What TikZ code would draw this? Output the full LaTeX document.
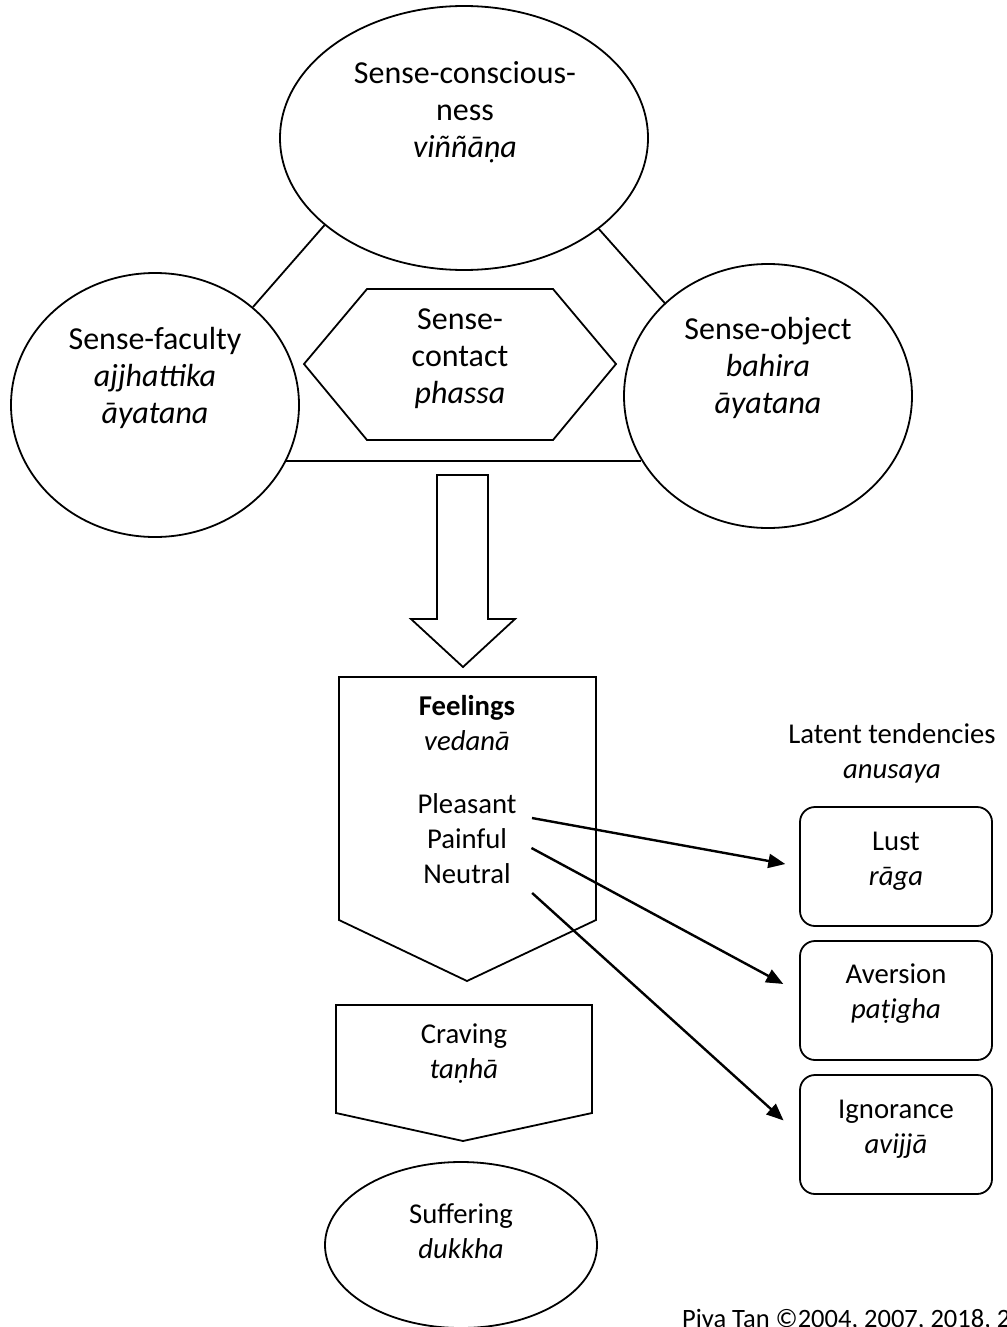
\documentclass[tikz,border=0pt]{standalone}
\usepackage{fontspec}
\setmainfont{Carlito}
\usetikzlibrary{shapes.geometric,arrows.meta}

\tikzset{
  oval/.style={draw, ellipse, line width=1.8pt, inner sep=0pt},
  link/.style={line width=1.8pt, line join=miter},
  bigtxt/.style={font=\fontsize{32}{37}\selectfont, align=center},
  txt/.style={font=\fontsize{28.7}{35}\selectfont, align=center},
  tbox/.style={draw, rounded corners=15pt, line width=1.8pt, minimum width=192pt, minimum height=119pt},
  pointer/.style={line width=2.4pt, -{Triangle[length=17pt,width=14pt]}}
}

\begin{document}
\begin{tikzpicture}[x=1pt, y=-1pt]
    \useasboundingbox (0,0) rectangle (1006,1327);
    % the three ovals of the sense process
    \node[oval, minimum width=368pt, minimum height=264pt] (cons) at (464,138) {};
    \node[oval, minimum width=288pt, minimum height=264pt] (fac) at (155,405) {};
    \node[oval, minimum width=288pt, minimum height=264pt] (obj) at (768,396) {};
    \node[bigtxt] (constxt) at (465,112) {Sense-conscious-\\ness\\\textit{viññāṇa}};
    \node[bigtxt] (factxt) at (155,378) {Sense-faculty\\\textit{ajjhattika}\\\textit{āyatana}};
    \node[bigtxt] (objtxt) at (768,368) {Sense-object\\\textit{bahira}\\\textit{āyatana}};
    \draw[link] (fac.45) -- (cons.212);
    \draw[link] (cons.-34) -- (obj.138);
    \draw[link] (fac.-23) -- (fac.-23 -| obj.207);
    % contact
    \draw[link] (304,364) -- (367,289) -- (553,289) -- (616,364) -- (553,440) -- (367,440) -- cycle;
    \node[bigtxt] (contact) at (460,359) {Sense-\\contact\\\textit{phassa}};
    \draw[link] (437,475) -- (488,475) -- (488,619) -- (515,619) -- (463,667) -- (411,619) -- (437,619) -- cycle;
    % feelings
    \draw[link] (339,677) -- (596,677) -- (596,920) -- (467,981) -- (339,920) -- cycle;
    \node[txt] (feel) at (467,723) {\textbf{Feelings}\\\textit{vedanā}};
    \node[txt, anchor=base] (pl) at (467,813) {Pleasant};
    \node[txt, anchor=base] (pa) at (467,848) {Painful};
    \node[txt, anchor=base] (ne) at (467,883) {Neutral};
    % latent tendencies
    \node[txt] (latent) at (892,753) {Latent tendencies\\\textit{anusaya}};
    \node[tbox] (lust) at (896,866.5) {};
    \node[tbox] (ave) at (896,1000.5) {};
    \node[tbox] (ign) at (896,1134.5) {};
    \node[txt] (lusttxt) at (896,861) {Lust\\\textit{rāga}};
    \node[txt] (avetxt) at (896,994) {Aversion\\\textit{paṭigha}};
    \node[txt] (igntxt) at (896,1129) {Ignorance\\\textit{avijjā}};
    \draw[pointer, shorten >=14pt] ([xshift=12pt,yshift=-5pt]pl.base east) -- (lust.west);
    \draw[pointer, shorten >=18pt] ([xshift=21pt]pa.base east) -- ([yshift=8pt]ave.west);
    \draw[pointer, shorten >=21pt] ([xshift=18pt,yshift=-10pt]ne.base east) -- (ign.west);
    % craving and suffering
    \draw[link] (336,1005) -- (592,1005) -- (592,1113) -- (463,1141) -- (336,1113) -- cycle;
    \node[txt] (crav) at (464,1054) {Craving\\\textit{taṇhā}};
    \node[oval, minimum width=272pt, minimum height=166pt] (suff) at (461,1245) {};
    \node[txt] (sufftxt) at (461,1231) {Suffering\\\textit{dukkha}};
    \node[font=\fontsize{26.5}{32}\selectfont, anchor=base west, inner sep=0pt] (copy) at (682,1327) {Piya Tan ©2004, 2007, 2018, 2};
\end{tikzpicture}
\end{document}
